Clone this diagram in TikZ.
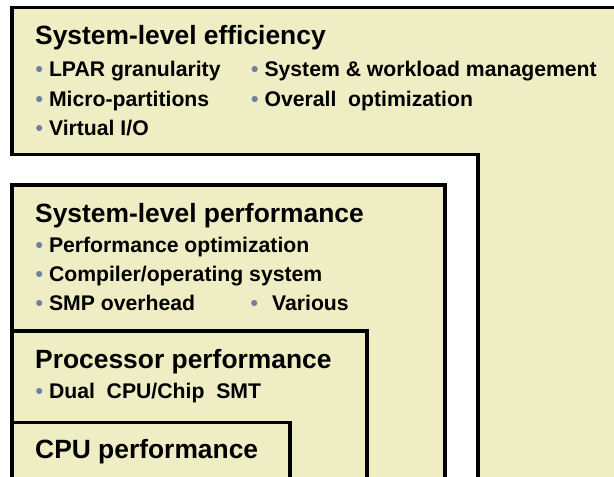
\documentclass[tikz,border=0pt]{standalone}
\usepackage{fontspec}
\setmainfont{Liberation Sans}
\usepackage{xcolor}
\usepackage{tikz}

\definecolor{khaki}{RGB}{239,237,195}
\definecolor{dotblue}{RGB}{112,128,160}
\newcommand{\bul}{{\color{dotblue}\textbullet}}

\begin{document}
\begin{tikzpicture}[x=1pt,y=-1pt]
			\tikzstyle{layer}=[draw,fill=khaki,line width=3.2pt,line join=miter]
			\tikzstyle{head}=[anchor=base west,inner sep=0pt,font=\fontsize{26.4}{30}\selectfont\bfseries]
			\tikzstyle{item}=[anchor=base west,inner sep=0pt,font=\fontsize{21.2}{25}\selectfont\bfseries]
			
			\useasboundingbox (0,0) rectangle (614,477);
			\clip (0,0) rectangle (614,477);
			
			% layers, outermost first, running off the page
			\draw[layer] (12,7.5) -- (640,7.5) -- (640,500) -- (478,500) -- (478,154.5) -- (12,154.5) -- cycle;
			\draw[layer] (12,185) rectangle (445,500);
			\draw[layer] (12,331) rectangle (367,500);
			\draw[layer] (12,422.5) rectangle (290,500);
			
			\node[head] (eff) at (35,44) {System-level efficiency};
			\node[item] (lpar) at (35.5,76) {\bul\ LPAR granularity};
			\node[item] (micro) at (35.5,106) {\bul\ Micro-partitions};
			\node[item] (vio) at (35.5,135) {\bul\ Virtual I/O};
			\node[item] (wlm) at (251,76) {\bul\ System \& workload management};
			\node[item] (opt) at (251,106) {\bul\ Overall~ optimization};
			
			\node[head] (sysperf) at (35,222) {System-level performance};
			\node[item] (perfopt) at (35.5,252) {\bul\ Performance optimization};
			\node[item] (comp) at (35.5,281) {\bul\ Compiler/operating system};
			\node[item] (smp) at (35.5,310) {\bul\ SMP overhead};
			\node[item] (various) at (250.5,310) {\bul\hspace{14pt}Various};
			
			\node[head] (proc) at (35,368) {Processor performance};
			\node[item] (dual) at (35.5,398) {\bul\ Dual~ CPU/Chip~ SMT};
			
			\node[head] (cpu) at (35,458) {CPU performance};
		\end{tikzpicture}
\end{document}
